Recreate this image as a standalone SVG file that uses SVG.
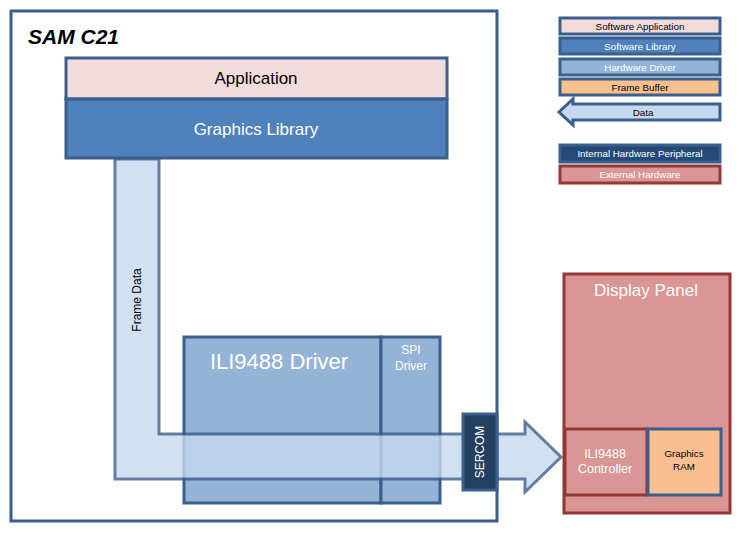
<svg xmlns="http://www.w3.org/2000/svg" width="739" height="536" viewBox="0 0 739 536">
<style>
text{font-family:"Liberation Sans",Arial,sans-serif;text-anchor:middle}
.b{stroke:#3A5F8C;stroke-width:3}
.r{stroke:#953735;stroke-width:3}
.w{fill:#fff}
.k{fill:#000}
.lg{font-size:9.8px}
</style>
<rect x="0" y="0" width="739" height="536" fill="#fff"/>
<g id="sam-c21-bg"><rect x="11" y="11" width="486" height="510" fill="#fff"/></g>
<g id="application"><rect class="b" x="66" y="58" width="381" height="41" fill="#F2DCDB"/><text class="k" x="256" y="84" font-size="17">Application</text></g>
<g id="graphics-library"><rect class="b" x="66" y="99" width="381" height="59" fill="#4F81BD"/><text class="w" x="256" y="135" font-size="17">Graphics Library</text></g>
<g id="ili9488-driver"><rect class="b" x="184" y="337" width="197" height="166" fill="#95B3D7"/><text class="w" x="279" y="369" font-size="22">ILI9488 Driver</text></g>
<g id="spi-driver"><rect class="b" x="381" y="337" width="59" height="166" fill="#95B3D7"/><text class="w" x="411" y="354" font-size="12">SPI</text><text class="w" x="411" y="370" font-size="12">Driver</text></g>
<g id="connectors">
<g id="frame-data" opacity="0.8"><path class="b" d="M115,159 L159,159 L159,434 L525,434 L525,422 L561,457 L525,492 L525,479 L115,479 Z" fill="#C6D9F1" stroke-linejoin="miter"/></g>
<text class="k" font-size="12" transform="translate(141,300) rotate(-90)">Frame Data</text>
</g>
<g id="sam-c21-frame"><rect class="b" x="11" y="11" width="486" height="510" fill="none"/><text x="28" y="44" font-size="21" font-weight="bold" font-style="italic" style="text-anchor:start" fill="#000">SAM C21</text></g>
<g id="sercom"><rect class="b" x="463" y="414" width="34" height="76" fill="#243F60"/><text class="w" font-size="12" transform="translate(484,452) rotate(-90)">SERCOM</text></g>
<g id="display-panel"><rect class="r" x="564" y="274" width="166" height="239" fill="#D99694"/><text class="w" x="646" y="296" font-size="17">Display Panel</text></g>
<g id="ili9488-controller"><rect class="r" x="565" y="429" width="82" height="66" fill="#D99694"/><text class="w" x="605" y="458" font-size="12.5">ILI9488</text><text class="w" x="605" y="473" font-size="12.5">Controller</text></g>
<g id="graphics-ram"><rect class="b" x="648" y="429" width="73" height="66" fill="#FAC090"/><text class="k" x="684" y="457" font-size="9.8">Graphics</text><text class="k" x="684" y="470" font-size="9.8">RAM</text></g>
<g id="legend">
<g id="legend-software-application"><rect class="b" x="560" y="18" width="160" height="16" fill="#F2DCDB"/><text class="k lg" x="640" y="29.5">Software Application</text></g>
<g id="legend-software-library"><rect class="b" x="560" y="38" width="160" height="16" fill="#4F81BD"/><text class="w lg" x="640" y="49.5">Software Library</text></g>
<g id="legend-hardware-driver"><rect class="b" x="560" y="59" width="160" height="16" fill="#95B3D7"/><text class="w lg" x="640" y="70.5">Hardware Driver</text></g>
<g id="legend-frame-buffer"><rect class="b" x="560" y="79" width="160" height="16" fill="#FAC090"/><text class="k lg" x="640" y="90.5">Frame Buffer</text></g>
<g id="legend-data"><path class="b" d="M559,112 L573,99 L573,104 L720,104 L720,120 L573,120 L573,125 Z" fill="#C6D9F1"/><text class="k lg" x="643" y="115.5">Data</text></g>
<g id="legend-internal-hw"><rect class="b" x="560" y="145" width="160" height="17" fill="#254A78"/><text class="w lg" x="640" y="157">Internal Hardware Peripheral</text></g>
<g id="legend-external-hw"><rect class="r" x="560" y="166" width="160" height="17" fill="#D99694"/><text class="w lg" x="640" y="178">External Hardware</text></g>
</g>
</svg>
